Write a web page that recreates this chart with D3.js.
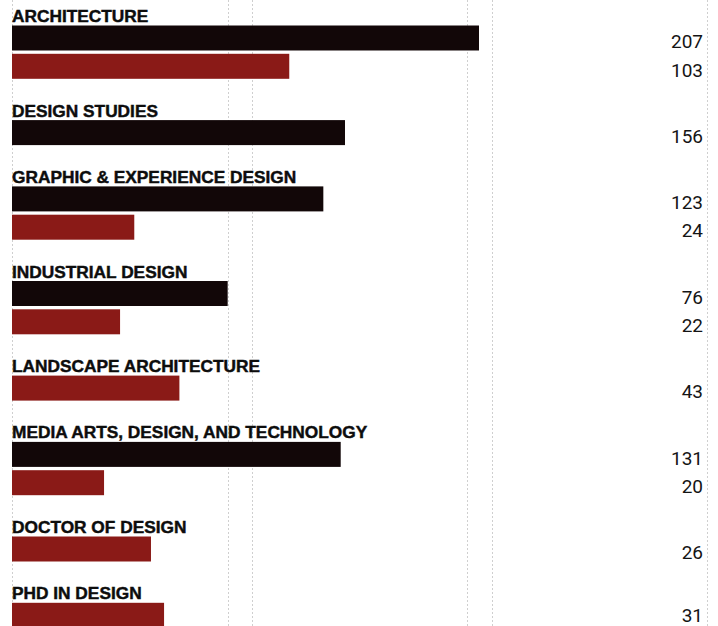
<!DOCTYPE html>
<html>
<head>
<meta charset="utf-8">
<script src="https://cdn.jsdelivr.net/npm/d3@7"></script>
<style>
  body { margin: 0; background: #fff; }
  .group-label { font-family: "Liberation Sans", Arial, sans-serif; font-weight: 700; font-size: 17.3px; fill: #0d0d0d; stroke: #0d0d0d; stroke-width: 0.45px; }
  .value-label { font-family: Roboto, "Noto Sans", sans-serif; font-size: 19px; fill: #141414; }
</style>
</head>
<body>
<div id="chart"></div>
<script>
// programs, undergraduate (black) and graduate (red) enrolment
const programs = [
  "ARCHITECTURE",
  "DESIGN STUDIES",
  "GRAPHIC & EXPERIENCE DESIGN",
  "INDUSTRIAL DESIGN",
  "LANDSCAPE ARCHITECTURE",
  "MEDIA ARTS, DESIGN, AND TECHNOLOGY",
  "DOCTOR OF DESIGN",
  "PHD IN DESIGN"
];

// printed counts
const undergradCount = [207, 156, 123, 76, null, 131, null, null];
const gradCount = [103, null, 24, 22, 43, 20, 26, 31];

// bar lengths as drawn in the picture (same units, the print is not to scale)
const undergradBar = [207, 147.6, 138, 95.6, null, 145.7, null, null];
const gradBar = [122.9, null, 54.2, 47.9, 74.2, 40.8, 61.6, 67.4];

const seriesColors = { undergrad: "#120708", grad: "#8a1a17" };

const width = 718;
const height = 626;
const left = 12;
const valueX = 703;
const barH = 25;
const barStep = 28.3;
const groupGap = 37.8;
const guideCols = [12, 228, 252, 467, 492, 707];

const svg = d3.select("#chart")
  .append("svg")
  .attr("width", width)
  .attr("height", height);

const x = d3.scaleLinear()
  .domain([0, 207])
  .range([left, 479]);

// page column guides
svg.selectAll(".guide")
  .data(guideCols)
  .join("line")
  .attr("class", "guide")
  .attr("x1", d => d + 0.5)
  .attr("x2", d => d + 0.5)
  .attr("y1", 0)
  .attr("y2", height)
  .attr("stroke", "#cfcfcf")
  .attr("stroke-width", 1)
  .attr("stroke-dasharray", "2,2");

// build rows with running y position
let baseline = 22;
const groups = programs.map((name, i) => {
  const bars = [];
  if (undergradBar[i] != null) bars.push({ key: "undergrad", len: undergradBar[i], count: undergradCount[i] });
  if (gradBar[i] != null) bars.push({ key: "grad", len: gradBar[i], count: gradCount[i] });
  const g = { name, baseline, bars };
  bars.forEach((b, j) => { b.y = baseline + 3.5 + j * barStep; });
  baseline = baseline + 3.5 + (bars.length - 1) * barStep + barH + groupGap;
  return g;
});

const group = svg.selectAll(".program")
  .data(groups)
  .join("g")
  .attr("class", "program");

group.append("text")
  .attr("class", "group-label")
  .attr("x", left)
  .attr("y", d => d.baseline)
  .text(d => d.name);

group.selectAll("rect")
  .data(d => d.bars)
  .join("rect")
  .attr("x", x(0))
  .attr("y", d => d.y)
  .attr("width", d => x(d.len) - x(0))
  .attr("height", barH)
  .attr("fill", d => seriesColors[d.key]);

// counts, kept inside the bottom edge
group.selectAll(".value-label")
  .data(d => d.bars)
  .join("text")
  .attr("class", "value-label")
  .attr("x", valueX)
  .attr("y", d => Math.min(d.y + barH - 2.3, height - 4))
  .attr("text-anchor", "end")
  .text(d => d.count);
</script>
</body>
</html>
